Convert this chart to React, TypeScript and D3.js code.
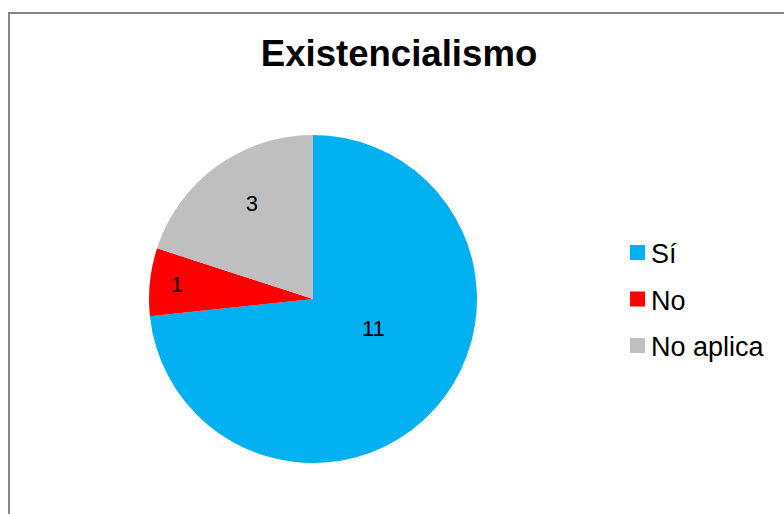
import React from "react";
import * as d3 from "d3";

const categories = ["Sí", "No", "No aplica"];
const values = [11, 1, 3];
const colors = ["#00B0F0", "#FF0000", "#BFBFBF"];
const title = "Existencialismo";

// label placement (polar, relative to pie): angle in degrees, radius fraction
const labelAngle = [116, 276, 327.5];
const labelRadius = [0.41, 0.835, 0.695];

export default function App() {
  const W = 784, H = 514;
  const cx = 313, cy = 299, R = 164;
  const pie = d3.pie<number>().sort(null).value((d) => d)(values);
  const arc = d3.arc<d3.PieArcDatum<number>>().innerRadius(0).outerRadius(R);
  const font = "Arial, 'Liberation Sans', sans-serif";
  return (
    <svg width={W} height={H} style={{ position: "absolute", left: 0, top: 0 }}>
      <rect x={0} y={0} width={W} height={H} fill="#fff" />
      <rect x={9} y={13} width={W + 20} height={H + 20} fill="#fff" stroke="#868686" strokeWidth={2} />
      <text x={399} y={66} textAnchor="middle" fontFamily={font} fontWeight="bold" fontSize={36.6} fill="#000">
        {title}
      </text>
      <g transform={`translate(${cx},${cy})`}>
        {pie.map((p, i) => (
          <path key={i} d={arc(p) || ""} fill={colors[i]} />
        ))}
        {pie.map((p, i) => {
          const a = (labelAngle[i] * Math.PI) / 180;
          const r = labelRadius[i] * R;
          return (
            <text key={"l" + i} x={Math.sin(a) * r} y={-Math.cos(a) * r} dy="0.35em" textAnchor="middle"
              fontFamily={font} fontSize={22} fill="#000">
              {values[i]}
            </text>
          );
        })}
      </g>
      {categories.map((c, i) => (
        <g key={c} transform={`translate(630,${245 + i * 46.5})`}>
          <rect x={0} y={0} width={15} height={15} fill={colors[i]} />
          <text x={21} y={18} fontFamily={font} fontSize={27} fill="#000">
            {c}
          </text>
        </g>
      ))}
    </svg>
  );
}
